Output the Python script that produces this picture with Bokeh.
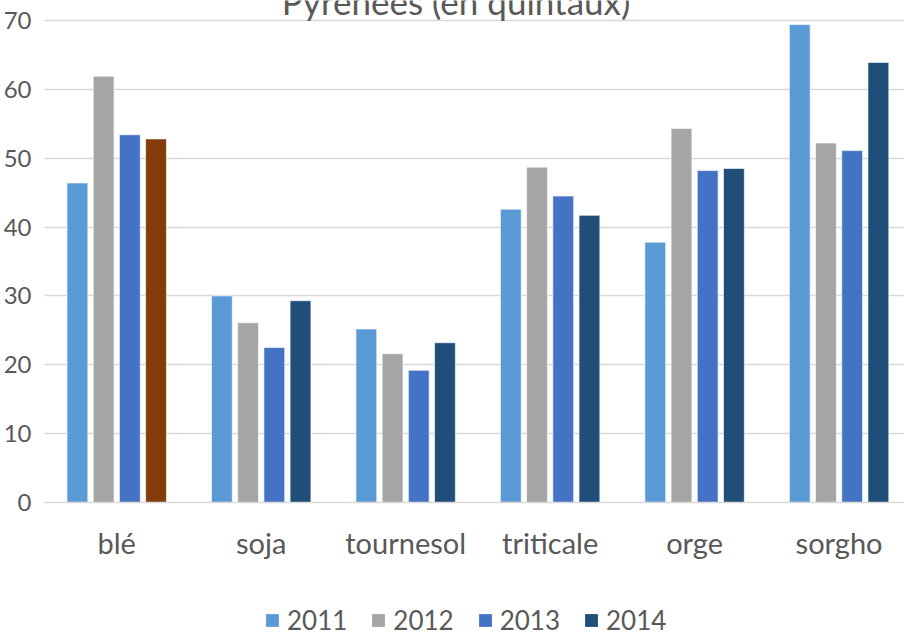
import numpy as np
from bokeh.plotting import figure
from bokeh.layouts import column
from bokeh.models import ColumnDataSource, Range1d, FixedTicker, Label, Legend, LegendItem
from bokeh.transform import dodge
from bokeh.embed import file_html
from bokeh.resources import INLINE

# ---- data ----
categories = ["blé", "soja", "tournesol", "triticale", "orge", "sorgho"]
years = ["2011", "2012", "2013", "2014"]
y2011 = [46.4, 30.0, 25.2, 42.6, 37.8, 69.4]
y2012 = [61.9, 26.1, 21.6, 48.7, 54.3, 52.2]
y2013 = [53.4, 22.5, 19.2, 44.5, 48.2, 51.1]
y2014 = [52.8, 29.3, 23.2, 41.7, 48.5, 63.9]
y_ticks = [0, 10, 20, 30, 40, 50, 60, 70]
title_text = "Pyrénées (en quintaux)"

# ---- style ----
year_colors = ["#5B9BD5", "#A5A5A5", "#4472C4", "#1F4E79"]
highlight_color = "#843C0C"   # blé 2014 point colour
text_color = "#595959"
grid_color = "#D9D9D9"
FONT = "Lato"

xpos = np.arange(len(categories)) + 0.5
c2014 = [highlight_color if c == "blé" else year_colors[3] for c in categories]
src = ColumnDataSource(dict(x=xpos, y2011=y2011, y2012=y2012, y2013=y2013,
                            y2014=y2014, c2014=c2014))

W = 904
LEFT = 44
H_MAIN, H_LEG = 564, 72
p = figure(width=W, height=H_MAIN, output_backend="svg", toolbar_location=None,
           x_range=Range1d(0, 5.953), y_range=Range1d(0, 72.90),
           min_border_left=LEFT, min_border_right=0, min_border_top=0,
           min_border_bottom=62)
p.outline_line_color = None
p.background_fill_color = "white"
p.border_fill_color = "white"

step = 0.1814
bw = 0.1440
offsets = [-1.5 * step, -0.5 * step, 0.5 * step, 1.5 * step]
cols = ["y2011", "y2012", "y2013", "y2014"]
for i, (col, off) in enumerate(zip(cols, offsets)):
    color = "c2014" if col == "y2014" else year_colors[i]
    p.vbar(x=dodge("x", off), top=col, width=bw, bottom=0, source=src,
           fill_color=color, line_color="white", line_alpha=0.6, line_width=1)

# axes
p.xaxis.ticker = FixedTicker(ticks=list(xpos))
p.xaxis.major_label_overrides = {float(x): c for x, c in zip(xpos, categories)}
p.xaxis.axis_line_color = grid_color
p.xaxis.axis_line_width = 1.5
p.xaxis.major_tick_line_color = None
p.xaxis.minor_tick_line_color = None
p.xaxis.major_label_text_font = FONT
p.xaxis.major_label_text_font_size = "29px"
p.xaxis.major_label_text_color = text_color
p.xaxis.major_label_standoff = 16

p.yaxis.ticker = FixedTicker(ticks=y_ticks)
p.yaxis.axis_line_color = None
p.yaxis.major_tick_line_color = None
p.yaxis.minor_tick_line_color = None
p.yaxis.major_label_text_font = FONT
p.yaxis.major_label_text_font_size = "24px"
p.yaxis.major_label_text_color = text_color
p.yaxis.major_label_standoff = 7

p.xgrid.visible = False
p.ygrid.ticker = FixedTicker(ticks=y_ticks)
p.ygrid.grid_line_color = grid_color
p.ygrid.grid_line_width = 1.5

# title (partly cut at the top, as in the reference)
p.add_layout(Label(x=2.849, y=72.90, text=title_text, text_align="center",
                   text_baseline="alphabetic", text_font=FONT,
                   text_font_size="35px", text_color=text_color))

# ---- legend strip ----
pl = figure(width=W, height=H_LEG, output_backend="svg", toolbar_location=None,
            x_range=Range1d(0, 1), y_range=Range1d(0, 1),
            x_axis_location=None, y_axis_location=None,
            min_border_left=LEFT, min_border_right=0, min_border_top=0,
            min_border_bottom=0)
pl.outline_line_color = None
pl.grid.visible = False
leg_renderers = []
for y, c in zip(years, year_colors):
    # zero-height placeholder glyph, only used to draw the legend swatch
    r = pl.vbar(x=[0.5], top=[0], bottom=[0], width=0.01, fill_color=c,
                line_color=None)
    leg_renderers.append(r)
legend = Legend(items=[LegendItem(label=y, renderers=[r])
                       for y, r in zip(years, leg_renderers)],
                orientation="horizontal", location=(264 - LEFT, 0),
                glyph_width=16, glyph_height=16, label_standoff=7, spacing=23,
                padding=0, margin=0, border_line_color=None,
                background_fill_alpha=0, label_text_font=FONT,
                label_text_font_size="26px", label_text_color=text_color,
                label_height=16)
pl.add_layout(legend, "center")

layout = column(p, pl, spacing=0)
open("out.html", "w").write(file_html(layout, INLINE))
